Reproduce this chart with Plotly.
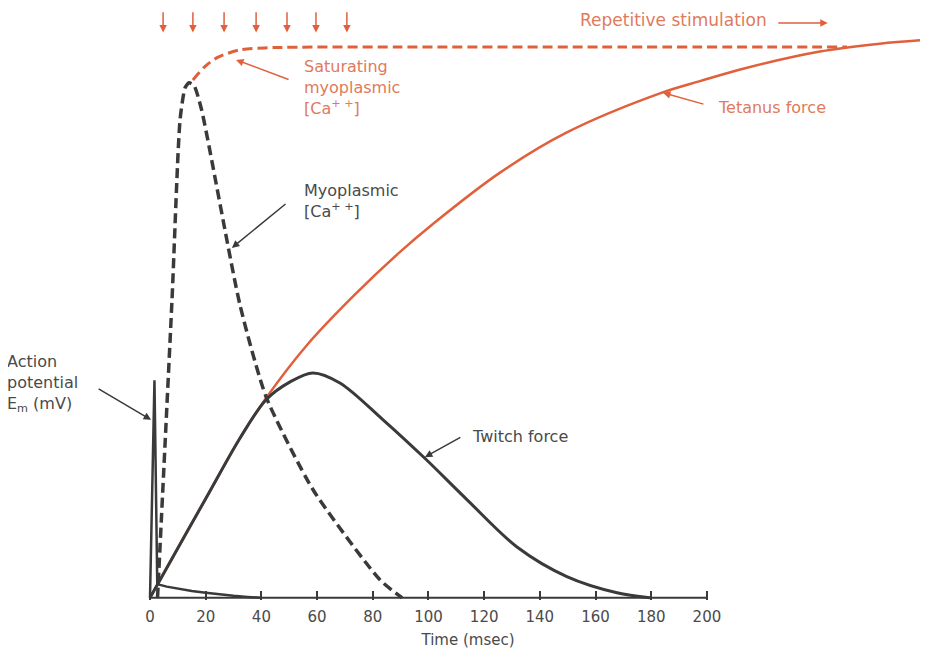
import plotly.graph_objects as go

# ---- data (time in ms, amplitudes in relative units; tetanus plateau = 100) ----
tick_vals = [0, 20, 40, 60, 80, 100, 120, 140, 160, 180, 200]

ap_t = [0, 1.6, 2.6, 3.6, 6, 10, 15, 20, 25, 30, 35, 40]
ap_v = [0, 39, 2.5, 2.3, 2.0, 1.6, 1.2, 0.9, 0.6, 0.35, 0.15, 0]

ca_t = [2.7, 7.9, 10.8, 12.6, 14.0, 15.8, 18.5, 32.3, 41.7, 58.5, 82.6, 90.5]
ca_c = [0, 53.4, 85.7, 91.4, 92.3, 91.8, 87.5, 52.5, 36.0, 19.4, 3.2, 0]

sat_t = [15.4, 19.7, 24.1, 32.3, 44.2, 89.8, 161.6, 250.3]
sat_c = [92.8, 95.2, 96.8, 98.2, 98.6, 98.7, 98.7, 98.7]

twitch_t = [0, 3.6, 20.5, 32.3, 41.7, 50.3, 58.5, 68.2, 83.7, 98.7, 113.8, 131.8, 149.7, 167.7, 179.5]
twitch_f = [0, 3.2, 18.2, 28.6, 35.5, 38.7, 40.3, 38.5, 31.9, 25.0, 17.6, 9.1, 3.8, 0.9, 0]

tet_t = [0, 3.6, 20.5, 32.3, 41.7, 56.4, 72.9, 89.8, 101.6, 125.7, 149.7, 183.1, 197.5, 214.4, 240.6, 262.1, 279.4]
tet_f = [0, 3.2, 18.2, 28.6, 35.8, 45.3, 54.0, 62.0, 67.0, 76.2, 83.4, 90.4, 92.6, 95.0, 97.9, 99.3, 100]

stim_times = [4.7, 15.4, 26.6, 38.1, 49.2, 59.6, 70.7]

# ---- styles ----
ORANGE = "#E0603C"
ORANGE_TXT = "#E07A5C"
DARK = "#3A3A3A"
TXT = "#4A4A4A"
FONT = "DejaVu Sans"

fig = go.Figure()

fig.add_trace(go.Scatter(x=tet_t, y=tet_f, mode="lines",
                         line=dict(color=ORANGE, width=2.5, shape="spline", smoothing=1.0),
                         hoverinfo="skip"))
fig.add_trace(go.Scatter(x=sat_t, y=sat_c, mode="lines",
                         line=dict(color=ORANGE, width=3, dash="10px,5px", shape="spline", smoothing=0.8),
                         hoverinfo="skip"))
fig.add_trace(go.Scatter(x=ca_t, y=ca_c, mode="lines",
                         line=dict(color=DARK, width=3.5, dash="10px,5px", shape="spline", smoothing=0.6),
                         hoverinfo="skip"))
fig.add_trace(go.Scatter(x=twitch_t, y=twitch_f, mode="lines",
                         line=dict(color=DARK, width=3, shape="spline", smoothing=0.9),
                         hoverinfo="skip"))
fig.add_trace(go.Scatter(x=ap_t, y=ap_v, mode="lines",
                         line=dict(color=DARK, width=2.5),
                         hoverinfo="skip"))

# axis baseline from first to last tick
fig.add_shape(type="line", xref="x", yref="y", x0=tick_vals[0], x1=tick_vals[-1], y0=0, y1=0,
              line=dict(color=DARK, width=2))

ann = []
# stimulus arrows
for t in stim_times:
    ann.append(dict(x=t, y=101.3, ax=t, ay=105.2, xref="x", yref="y", axref="x", ayref="y",
                    text="", showarrow=True, arrowhead=2, arrowsize=1, arrowwidth=1.5,
                    arrowcolor=ORANGE))

def arrow(hx, hy, tx, ty, color):
    return dict(x=hx, y=hy, ax=tx, ay=ty, xref="x", yref="y", axref="x", ayref="y",
                text="", showarrow=True, arrowhead=2, arrowsize=1, arrowwidth=1.5,
                arrowcolor=color)

ann += [
    arrow(30.9, 96.4, 50.3, 92.8, ORANGE),
    arrow(29.4, 62.7, 49.2, 70.8, DARK),
    arrow(184.2, 90.5, 199.3, 88.4, ORANGE),
    arrow(98.7, 25.2, 112.0, 28.9, DARK),
    arrow(0.4, 31.9, -19.0, 37.6, DARK),
    arrow(243.4, 103.0, 225.1, 103.0, ORANGE),
]

def label(x, y, text, color, size=16, xshift=0):
    return dict(x=x, y=y, xref="x", yref="y", text=text, showarrow=False,
                xanchor="left", yanchor="middle", align="left", xshift=xshift,
                font=dict(family=FONT, size=size, color=color))

ann += [
    label(54.6, 91.4, "Saturating<br>myoplasmic<br>[Ca<sup>+ +</sup>]", ORANGE_TXT),
    label(54.6, 71.1, "Myoplasmic<br>[Ca<sup>+ +</sup>]", TXT),
    label(203.2, 87.8, "Tetanus force", ORANGE_TXT),
    label(114.9, 28.9, "Twitch force", TXT),
    label(-50.6, 38.4, "Action<br>potential<br>E<sub>m</sub> (mV)", TXT, xshift=-4),
    label(153.7, 103.6, "Repetitive stimulation", ORANGE_TXT, 17),
]

fig.update_layout(
    width=920, height=645,
    margin=dict(l=0, r=0, t=0, b=53),
    paper_bgcolor="white", plot_bgcolor="white",
    showlegend=False,
    annotations=ann,
    xaxis=dict(range=[-51.0, 279.4], tickvals=tick_vals, ticks="inside", ticklen=9,
               tickwidth=1.5, tickcolor=DARK, showline=False, showgrid=False, zeroline=False,
               ticklabelstandoff=6,
               tickfont=dict(family=FONT, size=15, color=TXT),
               title=dict(text="Time (msec)", font=dict(family=FONT, size=15, color=TXT), standoff=9)),
    yaxis=dict(range=[-0.4, 105.7], visible=False, showgrid=False, zeroline=False),
)

fig.write_html("out.html", config={"displayModeBar": False})
